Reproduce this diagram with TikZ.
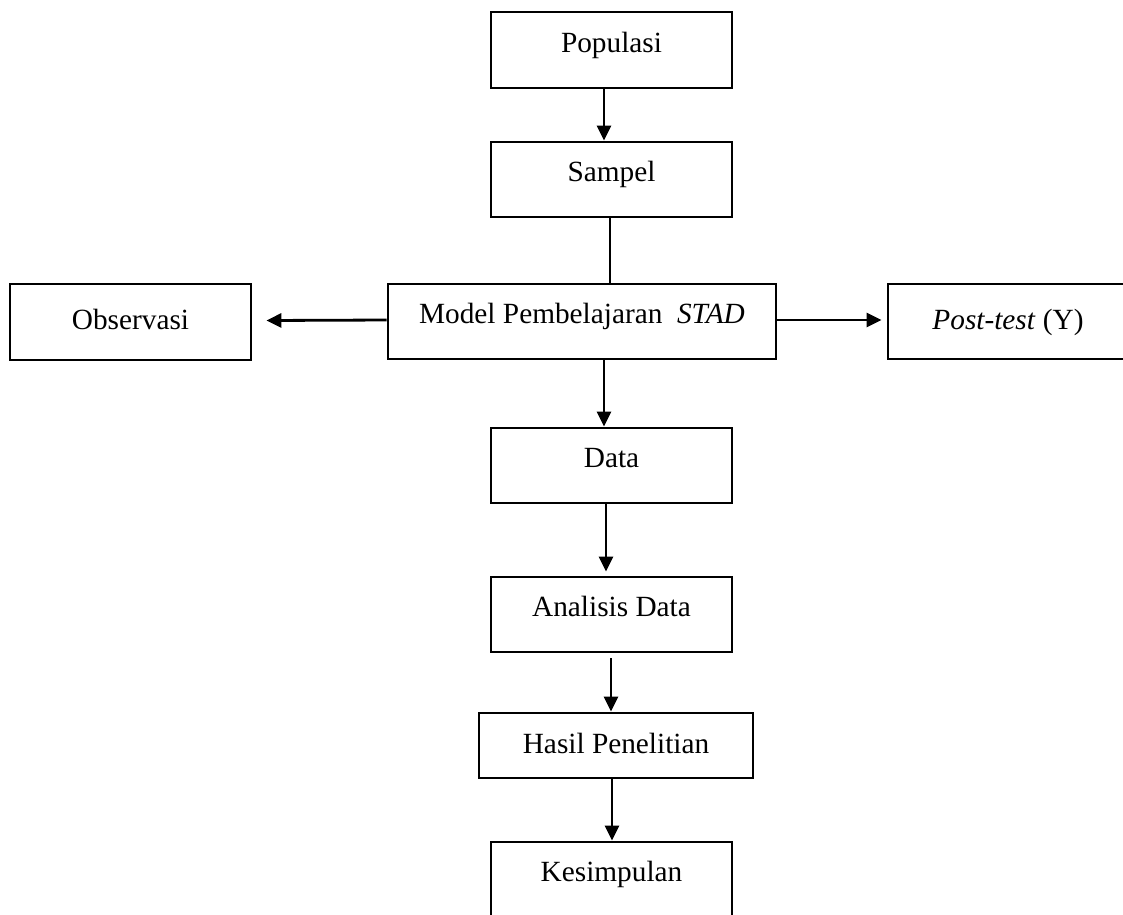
\documentclass[tikz,border=0pt]{standalone}
\usepackage{fontspec}
\setmainfont{Liberation Serif}
\usetikzlibrary{arrows.meta}
\begin{document}
\begin{tikzpicture}[x=1pt,y=-1pt,
  box/.style={draw, line width=2.8pt, inner sep=0pt,
    font=\fontsize{29.3}{35}\selectfont, text height=21pt, text depth=17pt},
  boxc/.style={box, text depth=6pt},
  arr/.style={line width=2.8pt, -{Triangle[length=15pt,width=14pt]}},
  con/.style={line width=2.8pt}]
\useasboundingbox (0,0) rectangle (1123,914);
\node[box, minimum width=241pt, minimum height=76pt] (pop) at (611.5,50) {Populasi};
\node[box, minimum width=241pt, minimum height=75pt] (sam) at (611.5,179.5) {Sampel};
\node[box, minimum width=388pt, minimum height=75pt] (mod) at (582,321.5) {Model Pembelajaran\ \ \textit{STAD}};
\node[boxc, minimum width=241pt, minimum height=76pt] (obs) at (130.5,322) {Observasi};
\node[boxc, minimum width=240pt, minimum height=75pt] (post) at (1008,321.5) {\textit{Post-test} (Y)};
\node[box, minimum width=241pt, minimum height=75pt] (dat) at (611.5,465.5) {Data};
\node[box, minimum width=241pt, minimum height=75pt] (ana) at (611.5,614.5) {Analisis Data};
\node[boxc, minimum width=274pt, minimum height=65pt] (has) at (616,745.5) {Hasil Penelitian};
\node[box, minimum width=241pt, minimum height=75pt] (kes) at (611.5,879.5) {Kesimpulan};

\draw[arr] ([xshift=-7.5pt]pop.south) -- ([xshift=-7.5pt]sam.north);
\draw[con] ([xshift=-1.5pt]sam.south) -- ([xshift=28pt]mod.north);
\draw[arr] ([yshift=1.5pt]mod.west) -- ([xshift=14pt,yshift=1.5pt]obs.east);
\draw[arr] ([yshift=1.5pt]mod.east) -- ([xshift=-5pt,yshift=1.5pt]post.west);
\draw[arr] ([xshift=22pt]mod.south) -- ([xshift=-7.5pt]dat.north);
\draw[arr] ([xshift=-5.5pt]dat.south) -- ([xshift=-5.5pt,yshift=4pt]ana.north);
\draw[arr] ([xshift=-0.5pt,yshift=-5pt]ana.south) -- ([xshift=-5pt]has.north);
\draw[arr] ([xshift=-4pt]has.south) -- ([xshift=0.5pt]kes.north);
\end{tikzpicture}
\end{document}
